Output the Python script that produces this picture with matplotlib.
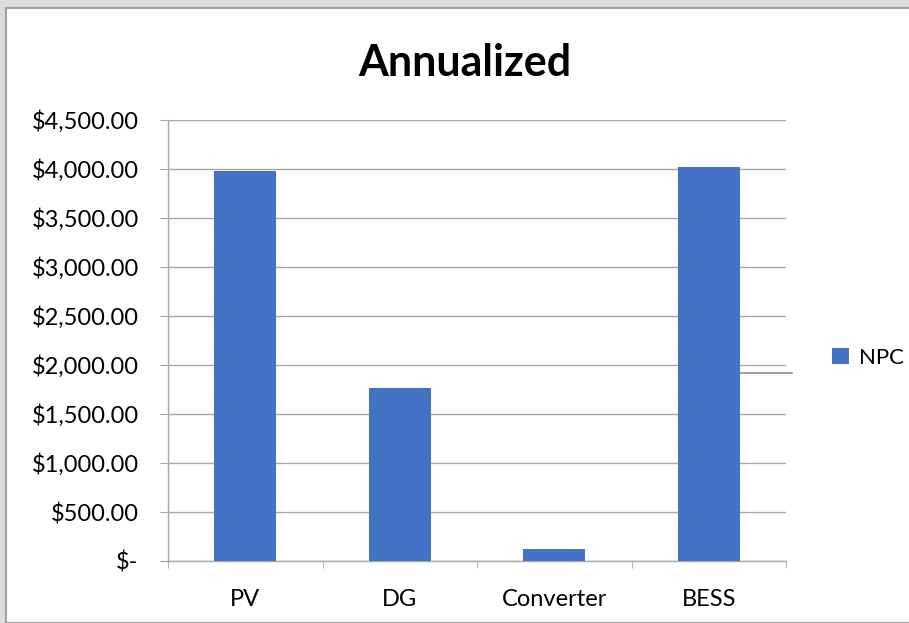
import numpy as np
import matplotlib.pyplot as plt
from matplotlib.lines import Line2D
from matplotlib.patches import Rectangle
from matplotlib.ticker import FuncFormatter

categories = ["PV", "DG", "Converter", "BESS"]
npc = [3980, 1765, 122, 4020]
y_ticks = [0, 500, 1000, 1500, 2000, 2500, 3000, 3500, 4000, 4500]

plt.rcParams["font.family"] = ["Lato", "DejaVu Sans"]

W, H = 909, 623
fig = plt.figure(figsize=(W / 100, H / 100), dpi=100)

# window-like grey frame around the chart
fig.patches.append(Rectangle((0, 0), 1, 1, transform=fig.transFigure,
                             facecolor="#dcdcdc", edgecolor="none", zorder=-3))
fig.patches.append(Rectangle((6 / W, 0), 1, 1 - 8 / H, transform=fig.transFigure,
                             facecolor="white", edgecolor="#a0a0a0", lw=1.5, zorder=-2))

ax = fig.add_axes([168 / W, 62 / H, (786 - 168) / W, (561 - 120) / H])
x = np.arange(len(categories))
ax.bar(x, npc, width=0.4, color="#4472C4", zorder=3, label="NPC")

ax.set_xlim(-0.5, len(categories) - 0.5)
ax.set_ylim(0, 4500)
ax.set_yticks(y_ticks)
ax.yaxis.set_major_formatter(FuncFormatter(
    lambda v, p: "$-" if v == 0 else f"${v:,.2f}"))
ax.set_xticks(x)
ax.set_xticklabels(categories)
ax.set_xticks(np.arange(len(categories) + 1) - 0.5, minor=True)

ax.grid(axis="y", color="#a6a6a6", lw=1.0, zorder=0)
for s in ["top", "right"]:
    ax.spines[s].set_visible(False)
for s in ["left", "bottom"]:
    ax.spines[s].set_color("#a6a6a6")
    ax.spines[s].set_linewidth(1.0)

ax.tick_params(axis="y", length=6, color="#a6a6a6", labelsize=17, pad=15)
ax.tick_params(axis="x", which="major", length=0, labelsize=17, pad=20)
ax.tick_params(axis="x", which="minor", length=5, color="#a6a6a6")

fig.text(465 / W, 1 - 63 / H, "Annualized", ha="center", va="center",
         fontsize=31, fontweight="bold")

ax.legend(loc="center left", bbox_to_anchor=(812 / W, 1 - 358 / H),
          bbox_transform=fig.transFigure, frameon=False, fontsize=16,
          handlelength=0.75, handleheight=0.75, handletextpad=0.45)

# stray darker line at the right of the plot
fig.lines.append(Line2D([741 / W, 792 / W], [1 - 373 / H, 1 - 373 / H],
                        transform=fig.transFigure, color="#8c8c8c", lw=1.2))

fig.savefig("out.png", dpi=100)
